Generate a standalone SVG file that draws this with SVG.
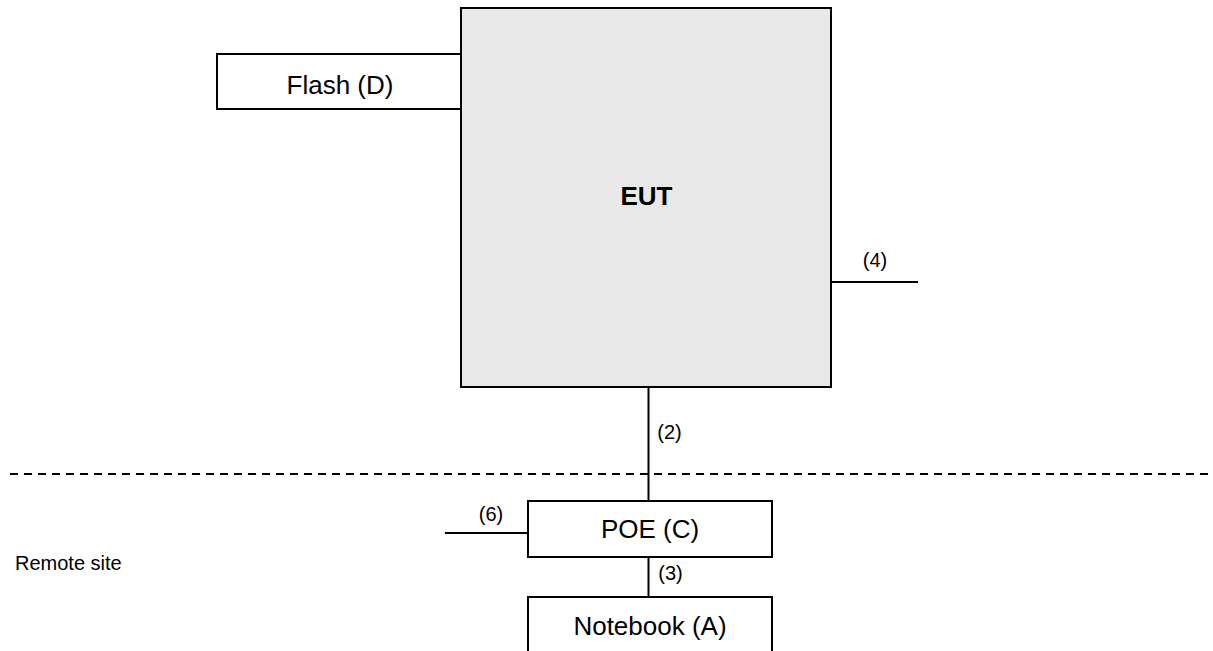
<svg xmlns="http://www.w3.org/2000/svg" width="1213" height="651" viewBox="0 0 1213 651">
<style>
.box{fill:#fff;stroke:#000;stroke-width:2}
.eut{fill:#e8e8e8;stroke:#000;stroke-width:2}
.ln{stroke:#000;stroke-width:2;fill:none}
.dash{stroke:#000;stroke-width:2;stroke-dasharray:8 6;fill:none}
.t{font-family:"Liberation Sans",Arial,sans-serif;fill:#000}
.big{font-size:26px;text-anchor:middle}
.sm{font-size:20px;text-anchor:middle}
</style>
<rect width="1213" height="651" fill="#fff"/>
<g id="connectors">
<line class="ln" x1="831" y1="282" x2="918" y2="282"/>
<text class="t sm" x="875" y="267">(4)</text>
<line class="ln" x1="648.5" y1="388" x2="648.5" y2="501"/>
<text class="t sm" x="669.5" y="439">(2)</text>
<line class="ln" x1="445" y1="533" x2="528" y2="533"/>
<text class="t sm" x="491" y="521">(6)</text>
<line class="ln" x1="648.5" y1="557" x2="648.5" y2="597"/>
<text class="t sm" x="670.5" y="580">(3)</text>
</g>
<line id="divider" class="dash" x1="10" y1="474" x2="1213" y2="474"/>
<text id="remote" class="t" x="15" y="570" font-size="20">Remote site</text>
<g id="flash">
<rect class="box" x="217" y="54" width="244" height="55"/>
<text class="t big" x="340" y="94">Flash (D)</text>
</g>
<g id="eut">
<rect class="eut" x="461" y="8" width="370" height="379"/>
<text class="t" x="646.5" y="205" font-size="26" font-weight="bold" text-anchor="middle">EUT</text>
</g>
<g id="poe">
<rect class="box" x="528" y="501" width="244" height="56"/>
<text class="t big" x="650" y="538">POE (C)</text>
</g>
<g id="notebook">
<rect class="box" x="528" y="597" width="244" height="60"/>
<text class="t big" x="650" y="635">Notebook (A)</text>
</g>
</svg>
